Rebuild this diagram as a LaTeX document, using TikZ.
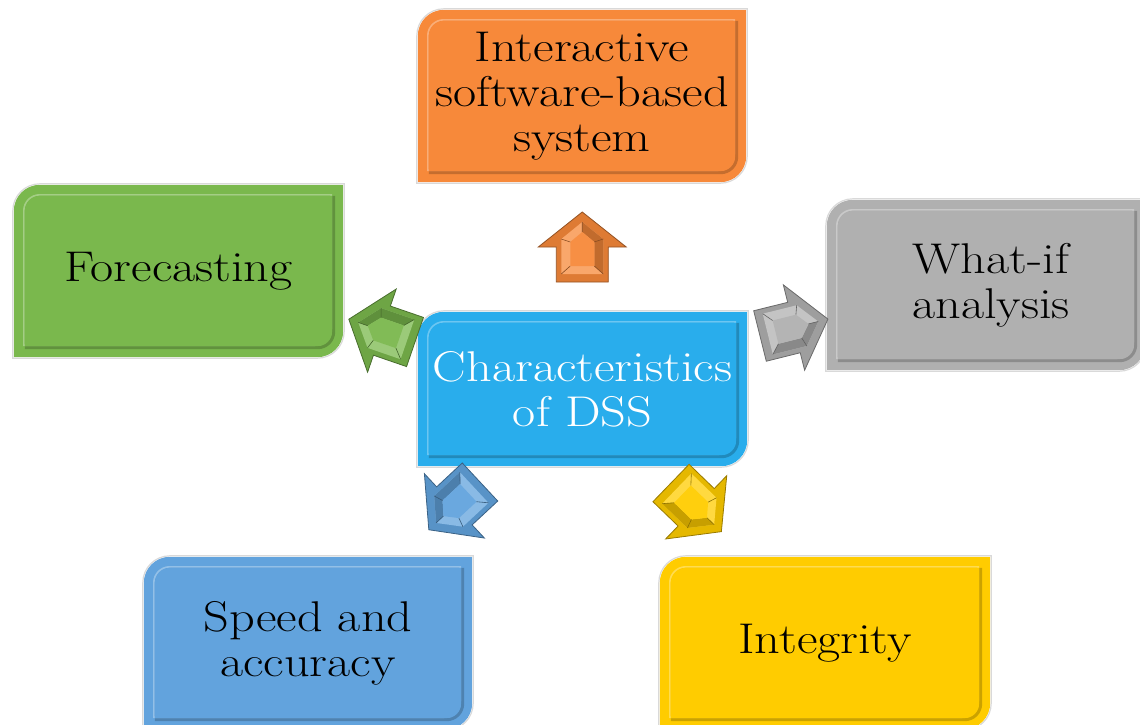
\documentclass[tikz,border=0pt]{standalone}
\usepackage{fontspec}
\usetikzlibrary{backgrounds,calc}

% a slightly widened Latin Modern for the labels
\newfontfamily\widefont{Latin Modern Roman}[FakeStretch=1.17]

\definecolor{cOrange}{RGB}{247,137,58}
\definecolor{cGreen}{RGB}{122,184,77}
\definecolor{cGray}{RGB}{176,176,176}
\definecolor{cCyan}{RGB}{41,173,236}
\definecolor{cBlue}{RGB}{98,163,221}
\definecolor{cYellow}{RGB}{255,204,0}

% outline of a box with rounded top-left and bottom-right corners
% #1 node, #2 inset, #3 radius
\newcommand\cutbox[3]{%
  ([xshift=#2]#1.west) [rounded corners=#3] |- ([yshift=-#2]#1.north)
  [sharp corners] -| ([xshift=-#2]#1.east)
  [rounded corners=#3] |- ([yshift=#2]#1.south)
  [sharp corners] -| ([xshift=#2]#1.west) -- cycle}

% bevelled box drawn behind a label node
% #1 node, #2 colour
\newcommand\dssbox[2]{%
  \begin{scope}[on background layer]
    \fill[#2] \cutbox{#1}{0pt}{26pt};
    \draw[black!15, line width=1.2pt] \cutbox{#1}{-1pt}{27pt};
    \draw[#2!60!black, line width=3pt, opacity=.5, transform canvas={shift={(1.5pt,-1.5pt)}}] \cutbox{#1}{11pt}{16pt};
    \draw[#2!55!white, line width=1.6pt, opacity=.7, transform canvas={shift={(-1pt,1pt)}}] \cutbox{#1}{11pt}{16pt};
    \fill[#2] \cutbox{#1}{11pt}{16pt};
  \end{scope}}

% bevelled block arrow; #1 base coordinate, #2 direction, #3 colour
\newcommand\blockarrow[3]{%
  \begin{scope}[shift={(#1)}, rotate=#2]
    \fill[#3!90!black, draw=#3!60!black, line width=.8pt]
      (0,-26) -- (35,-26) -- (35,-44) -- (70,0) -- (35,44) -- (35,26) -- (0,26) -- cycle;
    \fill[#3!75!white] (8,-21) -- (43,-21) -- (60,0) -- (43,21) -- (8,21) -- cycle;
    \fill[#3!78!black] (8,21) -- (43,21) -- (60,0) -- (50,0) -- (40,12) -- (16,12) -- cycle;
    \fill[#3!95!white] (16,-12) -- (40,-12) -- (50,0) -- (40,12) -- (16,12) -- cycle;
    \draw[#3!55!black, line width=.6pt]
      (8,-21) -- (16,-12) (43,-21) -- (40,-12) (60,0) -- (50,0)
      (43,21) -- (40,12) (8,21) -- (16,12);
  \end{scope}}

\tikzset{
  lbl/.style={font=\widefont\fontsize{43}{45}\selectfont, align=center, text=black,
              inner sep=0pt},
}

\begin{document}
\begin{tikzpicture}[x=1pt, y=-1pt]
  \useasboundingbox (0,0) rectangle (1140,724);
  \clip (0,0) rectangle (1140,724);

  % label nodes
  \node[lbl, minimum width=329, minimum height=154, text=white] (dss) at (582.5,389) {Characteristics\\of DSS};
  \node[lbl, minimum width=328, minimum height=172] (isb) at (582,96) {Interactive\\software-based\\system};
  \node[lbl, minimum width=329, minimum height=172] (fc) at (178.5,271) {Forecasting};
  \node[lbl, minimum width=318, minimum height=170] (wia) at (986,285) {};
  \node[lbl] (wiat) at (991,285) {What-if\\analysis};
  \node[lbl, minimum width=328, minimum height=172] (spd) at (308,643) {Speed and\\accuracy};
  \node[lbl, minimum width=330, minimum height=172] (itg) at (825,643) {Integrity};

  % boxes
  \dssbox{dss}{cCyan}
  \dssbox{isb}{cOrange}
  \dssbox{fc}{cGreen}
  \dssbox{wia}{cGray}
  \dssbox{spd}{cBlue}
  \dssbox{itg}{cYellow}

  % arrows from the centre outwards
  \coordinate (aIsb) at ($(dss.north)!0.5!(isb.south) + (0,35)$);
  \coordinate (aFc)  at (415,342);
  \coordinate (aWia) at (760,336);
  \coordinate (aSpd) at (480,482);
  \coordinate (aItg) at (671,483);
  \blockarrow{aIsb}{90}{cOrange}
  \blockarrow{aFc}{161}{cGreen}
  \blockarrow{aWia}{14}{cGray}
  \blockarrow{aSpd}{-137}{cBlue}
  \blockarrow{aItg}{-44}{cYellow}
\end{tikzpicture}
\end{document}
